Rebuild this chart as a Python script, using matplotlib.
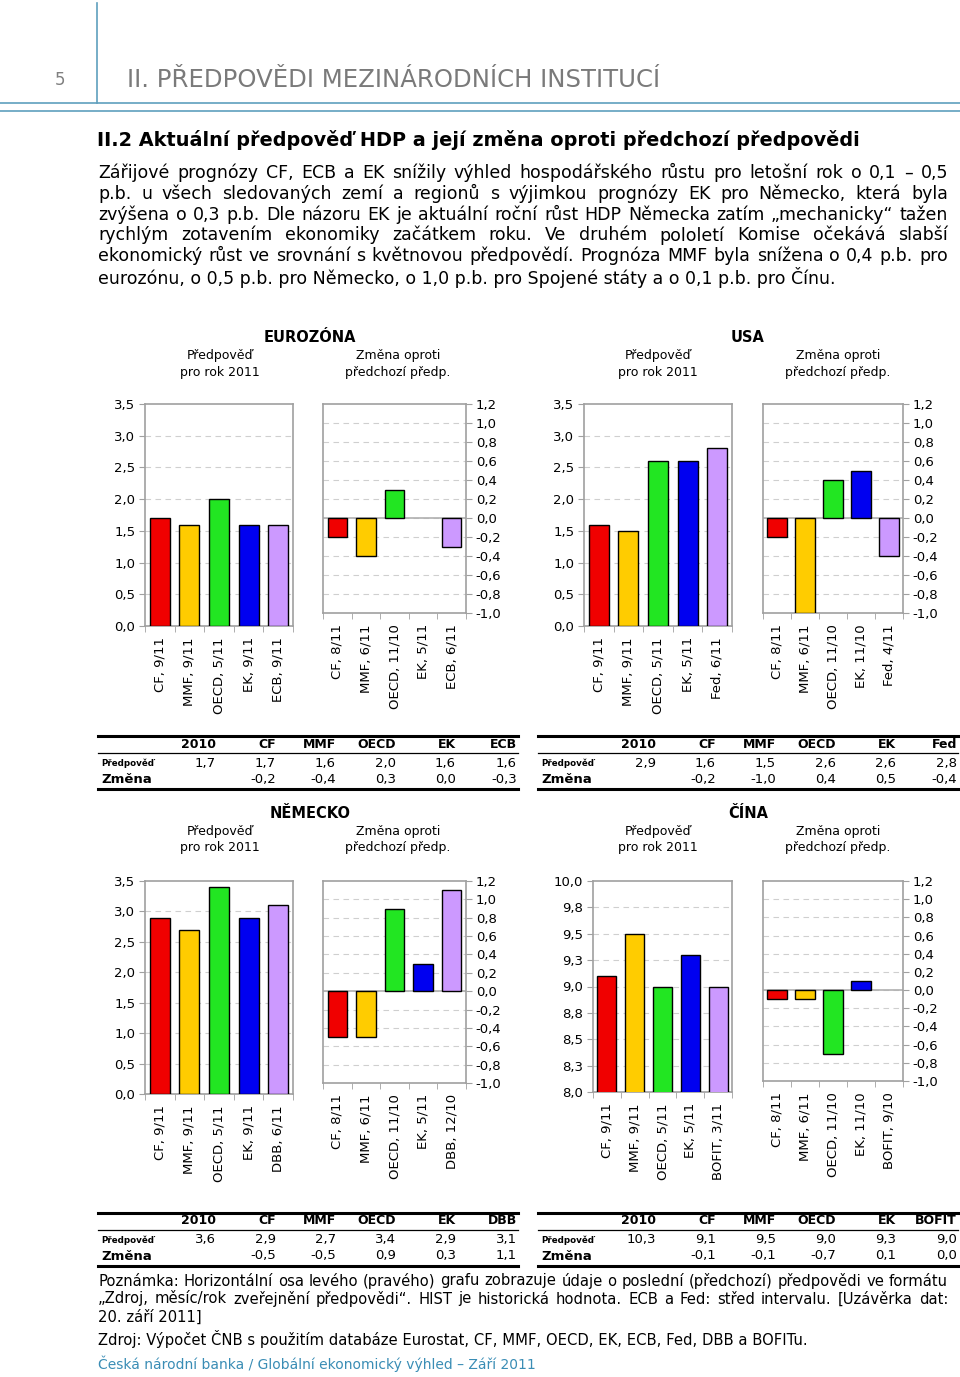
import math
import numpy as np
import matplotlib
matplotlib.use('Agg')
import matplotlib.pyplot as plt
from matplotlib.lines import Line2D

plt.rcParams['font.family'] = ['DejaVu Sans']

# ---- data ----
ez_lab_l = ['CF, 9/11', 'MMF, 9/11', 'OECD, 5/11', 'EK, 9/11', 'ECB, 9/11']
ez_val = [1.7, 1.6, 2.0, 1.6, 1.6]
ez_lab_r = ['CF, 8/11', 'MMF, 6/11', 'OECD, 11/10', 'EK, 5/11', 'ECB, 6/11']
ez_chg = [-0.2, -0.4, 0.3, 0.0, -0.3]
ez_hist = 1.7

us_lab_l = ['CF, 9/11', 'MMF, 9/11', 'OECD, 5/11', 'EK, 5/11', 'Fed, 6/11']
us_val = [1.6, 1.5, 2.6, 2.6, 2.8]
us_lab_r = ['CF, 8/11', 'MMF, 6/11', 'OECD, 11/10', 'EK, 11/10', 'Fed, 4/11']
us_chg = [-0.2, -1.0, 0.4, 0.5, -0.4]
us_hist = 2.9

de_lab_l = ['CF, 9/11', 'MMF, 9/11', 'OECD, 5/11', 'EK, 9/11', 'DBB, 6/11']
de_val = [2.9, 2.7, 3.4, 2.9, 3.1]
de_lab_r = ['CF, 8/11', 'MMF, 6/11', 'OECD, 11/10', 'EK, 5/11', 'DBB, 12/10']
de_chg = [-0.5, -0.5, 0.9, 0.3, 1.1]
de_hist = 3.6

cn_lab_l = ['CF, 9/11', 'MMF, 9/11', 'OECD, 5/11', 'EK, 5/11', 'BOFIT, 3/11']
cn_val = [9.1, 9.5, 9.0, 9.3, 9.0]
cn_lab_r = ['CF, 8/11', 'MMF, 6/11', 'OECD, 11/10', 'EK, 11/10', 'BOFIT, 9/10']
cn_chg = [-0.1, -0.1, -0.7, 0.1, 0.0]
cn_hist = 10.3

bar_colors = ['#f00000', '#ffcc00', '#22e622', '#0000f0', '#cc99ff']

paragraph = [
    'Zářijové prognózy CF, ECB a EK snížily výhled hospodářského růstu pro letošní rok o 0,1 – 0,5',
    'p.b. u všech sledovaných zemí a regionů s výjimkou prognózy EK pro Německo, která byla',
    'zvýšena o 0,3 p.b. Dle názoru EK je aktuální roční růst HDP Německa zatím „mechanicky“ tažen',
    'rychlým zotavením ekonomiky začátkem roku. Ve druhém pololetí Komise očekává slabší',
    'ekonomický růst ve srovnání s květnovou předpovědí. Prognóza MMF byla snížena o 0,4 p.b. pro',
    'eurozónu, o 0,5 p.b. pro Německo, o 1,0 p.b. pro Spojené státy a o 0,1 p.b. pro Čínu.',
]
note = [
    'Poznámka: Horizontální osa levého (pravého) grafu zobrazuje údaje o poslední (předchozí) předpovědi ve formátu',
    '„Zdroj, měsíc/rok zveřejnění předpovědi“. HIST je historická hodnota. ECB a Fed: střed intervalu. [Uzávěrka dat:',
    '20. září 2011]',
]
source = 'Zdroj: Výpočet ČNB s použitím databáze Eurostat, CF, MMF, OECD, EK, ECB, Fed, DBB a BOFITu.'
footer = 'Česká národní banka / Globální ekonomický výhled – Září 2011'

# ---- page setup ----
W, H = 960, 1377
fig = plt.figure(figsize=(W / 100, H / 100), dpi=100)
renderer = fig.canvas.get_renderer()
TEAL = '#5f9fbd'


def fx(x):
    return x / W


def fy(y):
    return 1 - y / H


def rect(x0, y0, x1, y1):
    return [fx(x0), fy(y1), (x1 - x0) / W, (y1 - y0) / H]


def line(x0, y0, x1, y1, lw, color):
    fig.add_artist(Line2D([fx(x0), fx(x1)], [fy(y0), fy(y1)],
                          transform=fig.transFigure, lw=lw, color=color))


def txt(x, y, s, **kw):
    kw.setdefault('va', 'center')
    return fig.text(fx(x), fy(y), s, **kw)


def fit(x0, x1, y, s, size, **kw):
    t = txt(x0, y, s, fontsize=size, **kw)
    w = t.get_window_extent(renderer).width
    t.set_fontsize(size * (x1 - x0) / w)
    return t


def justify(s, x0, x1, y, size, **kw):
    # spread the words so the line fills x0..x1
    words = s.split(' ')
    items = [txt(x0, y, w, fontsize=size, **kw) for w in words]
    widths = [t.get_window_extent(renderer).width for t in items]
    gap = (x1 - x0 - sum(widths)) / (len(words) - 1)
    x = x0
    for t, w in zip(items, widths):
        t.set_x(fx(x))
        x += w + gap


def fmt(v):
    return f'{round(v, 1) + 0.0:.1f}'.replace('.', ',')


def fmt_up(v):
    return f'{math.floor(v * 10 + 0.5) / 10:.1f}'.replace('.', ',')


# header
line(97, 3, 97, 103, 1.2, TEAL)
line(0, 103, 960, 103, 1.2, TEAL)
line(0, 111, 960, 111, 1.2, TEAL)
txt(55, 80, '5', fontsize=12, color='#808080')
fit(127, 663, 80, 'II. PŘEDPOVĚDI MEZINÁRODNÍCH INSTITUCÍ', 17, color='#7a7a7a')
fit(97, 852, 140, 'II.2 Aktuální předpověď HDP a její změna oproti předchozí předpovědi', 13,
    fontweight='bold')

for i, s in enumerate(paragraph):
    y = 173 + i * 20.8
    if i < len(paragraph) - 1:
        justify(s, 98, 948, y, 12.5)
    else:
        txt(98, y, s, fontsize=12.5)


def style_axes(ax, ylim, ticks, labels, right=False):
    ax.set_xlim(-0.5, 4.5)
    ax.set_ylim(*ylim)
    ax.set_yticks(ticks)
    ax.set_yticklabels(labels, fontsize=9.5)
    for t in ticks[1:-1]:
        ax.axhline(t, color='#cfcfcf', lw=0.8, ls=(0, (5, 4)), zorder=1)
    for sp in ax.spines.values():
        sp.set_color('#a0a0a0')
        sp.set_linewidth(1.2)
    ax.tick_params(axis='y', length=4, color='#a0a0a0', pad=3)
    if right:
        ax.yaxis.tick_right()
    ax.set_xticks(np.arange(-0.5, 5, 1.0), minor=True)
    ax.tick_params(axis='x', which='minor', length=4, color='#a0a0a0')
    ax.tick_params(axis='x', which='major', length=0, pad=8)


def edges(values):
    return ['none' if v == 0 else 'black' for v in values]


def level_chart(box, labels, values, ylim, ticks, ticklabels):
    ax = fig.add_axes(rect(*box))
    x = np.arange(len(values))
    ax.bar(x, values, width=0.68, color=bar_colors, edgecolor='black', linewidth=1, zorder=3)
    style_axes(ax, ylim, ticks, ticklabels)
    ax.set_xticks(x)
    ax.set_xticklabels(labels, rotation=90, fontsize=9.5)
    return ax


def change_chart(box, labels, values):
    ax = fig.add_axes(rect(*box))
    x = np.arange(len(values))
    ticks = [round(v, 1) for v in np.arange(-1.0, 1.21, 0.2)]
    ax.axhline(0, color='#b0b0b0', lw=1.2, zorder=2)
    ax.bar(x, values, width=0.68, color=bar_colors, edgecolor=edges(values), linewidth=1, zorder=3)
    style_axes(ax, (-1.0, 1.2), ticks, [fmt(t) for t in ticks], right=True)
    ax.set_xticks(x)
    ax.set_xticklabels(labels, rotation=90, fontsize=9.5)
    return ax


def titles(cx, y, name, lx, rx):
    txt(cx, y, name, fontsize=10.5, fontweight='bold', ha='center')
    txt(lx, y + 17, 'Předpověď', fontsize=9, ha='center')
    txt(lx, y + 34, 'pro rok 2011', fontsize=9, ha='center')
    txt(rx, y + 17, 'Změna oproti', fontsize=9, ha='center')
    txt(rx, y + 34, 'předchozí předp.', fontsize=9, ha='center')


def table(x0, x1, ytop, labels, hist, values, changes):
    cols = [x0 + 118, x0 + 178, x0 + 238, x0 + 298, x0 + 358, x0 + 419]
    heads = ['2010'] + [s.split(',')[0] for s in labels]
    preds = [fmt(hist)] + [fmt(v) for v in values]
    chgs = [''] + [fmt(v) for v in changes]
    line(x0, ytop, x1, ytop, 2.2, 'black')
    line(x0, ytop + 17, x1, ytop + 17, 0.9, 'black')
    line(x0, ytop + 53, x1, ytop + 53, 2.2, 'black')
    txt(x0 + 3, ytop + 27, 'Předpověď', fontsize=6.3, fontweight='bold')
    txt(x0 + 3, ytop + 43, 'Změna', fontsize=9.5, fontweight='bold')
    for cx, h, p, c in zip(cols, heads, preds, chgs):
        txt(cx, ytop + 8, h, fontsize=9, fontweight='bold', ha='right')
        txt(cx, ytop + 27, p, fontsize=9.5, ha='right')
        txt(cx, ytop + 43, c, fontsize=9.5, ha='right')


lvl_ticks = [0.0, 0.5, 1.0, 1.5, 2.0, 2.5, 3.0, 3.5]
lvl_labels = [fmt(t) for t in lvl_ticks]
cn_ticks = list(np.arange(8.0, 10.01, 0.25))
cn_labels = [fmt_up(t) for t in cn_ticks]

# eurozone
titles(310, 338, 'EUROZÓNA', 220, 398)
level_chart((145, 404, 293, 626), ez_lab_l, ez_val, (0, 3.5), lvl_ticks, lvl_labels)
change_chart((323, 404, 466, 613), ez_lab_r, ez_chg)
table(98, 518, 736, ez_lab_l, ez_hist, ez_val, ez_chg)

# USA
titles(748, 338, 'USA', 658, 838)
level_chart((584, 404, 732, 626), us_lab_l, us_val, (0, 3.5), lvl_ticks, lvl_labels)
change_chart((763, 404, 903, 613), us_lab_r, us_chg)
table(538, 958, 736, us_lab_l, us_hist, us_val, us_chg)

# Germany
titles(310, 814, 'NĚMECKO', 220, 398)
level_chart((145, 881, 293, 1094), de_lab_l, de_val, (0, 3.5), lvl_ticks, lvl_labels)
change_chart((323, 881, 466, 1083), de_lab_r, de_chg)
table(98, 518, 1213, de_lab_l, de_hist, de_val, de_chg)

# China
titles(748, 814, 'ČÍNA', 658, 838)
level_chart((593, 881, 732, 1092), cn_lab_l, cn_val, (8.0, 10.0), cn_ticks, cn_labels)
change_chart((763, 881, 903, 1081), cn_lab_r, cn_chg)
table(538, 958, 1213, cn_lab_l, cn_hist, cn_val, cn_chg)

# notes and footer
justify(note[0], 98, 948, 1281, 10.6)
justify(note[1], 98, 948, 1299, 10.6)
txt(98, 1317, note[2], fontsize=10.6)
txt(98, 1339, source, fontsize=10.6)
txt(98, 1364, footer, fontsize=10, color='#3a8db5')

fig.savefig('out.png', dpi=100)
